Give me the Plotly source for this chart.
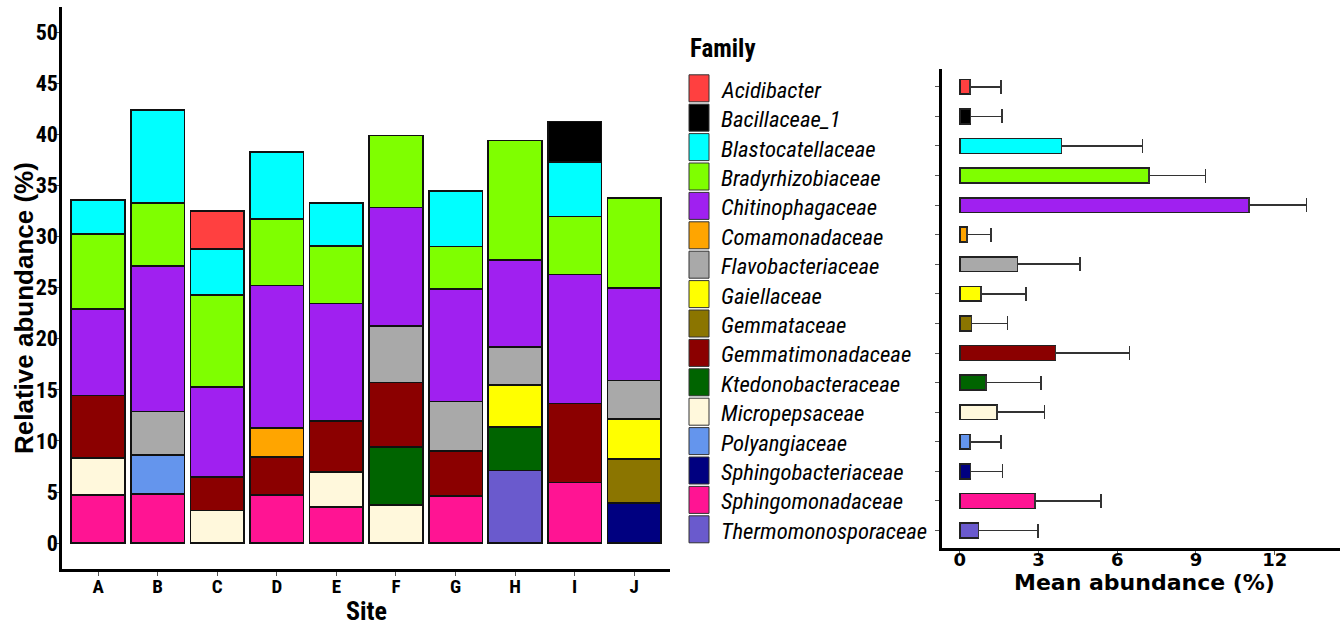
import plotly.graph_objects as go

# Canvas size in pixels; helpers convert pixel positions to paper fractions
W, H = 1343, 629


def px(x):
    return x / W


def py(y):
    return 1 - y / H


sites = ["A", "B", "C", "D", "E", "F", "G", "H", "I", "J"]

families = [
    "Acidibacter", "Bacillaceae_1", "Blastocatellaceae", "Bradyrhizobiaceae",
    "Chitinophagaceae", "Comamonadaceae", "Flavobacteriaceae", "Gaiellaceae",
    "Gemmataceae", "Gemmatimonadaceae", "Ktedonobacteraceae", "Micropepsaceae",
    "Polyangiaceae", "Sphingobacteriaceae", "Sphingomonadaceae",
    "Thermomonosporaceae",
]

family_colors = [
    "#FF4040", "#000000", "#00FFFF", "#7FFF00",
    "#A020F0", "#FFA500", "#A9A9A9", "#FFFF00",
    "#8B7500", "#8B0000", "#006400", "#FFF8DC",
    "#6495ED", "#000080", "#FF1493", "#6A5ACD",
]

# Relative abundance (%) of each family at sites A..J (None = not among the top families)
acidibacter = [None, None, 3.70, None, None, None, None, None, None, None]
bacillaceae_1 = [None, None, None, None, None, None, None, None, 3.96, None]
blastocatellaceae = [3.35, 9.10, 4.50, 6.55, 4.20, None, 5.40, None, 5.32, None]
bradyrhizobiaceae = [7.35, 6.20, 9.00, 6.55, 5.65, 7.04, 4.17, 11.70, 5.68, 8.79]
chitinophagaceae = [8.45, 14.23, 8.84, 13.95, 11.49, 11.62, 11.03, 8.48, 12.65, 9.08]
comamonadaceae = [None, None, None, 2.80, None, None, None, None, None, None]
flavobacteriaceae = [None, 4.27, None, None, None, 5.50, 4.82, 3.74, None, 3.74]
gaiellaceae = [None, None, None, None, None, None, None, 4.13, None, 3.91]
gemmataceae = [None, None, None, None, None, None, None, None, None, 4.32]
gemmatimonadaceae = [6.10, None, 3.26, 3.75, 4.98, 6.35, 4.43, None, 7.71, None]
ktedonobacteraceae = [None, None, None, None, None, 5.63, None, 4.25, None, None]
micropepsaceae = [3.65, None, 3.20, None, 3.45, 3.76, None, None, None, None]
polyangiaceae = [None, 3.80, None, None, None, None, None, None, None, None]
sphingobacteriaceae = [None, None, None, None, None, None, None, None, None, 3.93]
sphingomonadaceae = [4.70, 4.80, None, 4.70, 3.53, None, 4.60, None, 5.94, None]
thermomonosporaceae = [None, None, None, None, None, None, None, 7.10, None, None]

site_abundance = [
    acidibacter, bacillaceae_1, blastocatellaceae, bradyrhizobiaceae,
    chitinophagaceae, comamonadaceae, flavobacteriaceae, gaiellaceae,
    gemmataceae, gemmatimonadaceae, ktedonobacteraceae, micropepsaceae,
    polyangiaceae, sphingobacteriaceae, sphingomonadaceae, thermomonosporaceae,
]

# Mean abundance across sites (%) and its standard deviation
mean_abundance = [0.38, 0.41, 3.87, 7.22, 11.03, 0.28, 2.20, 0.81,
                  0.44, 3.65, 0.99, 1.42, 0.38, 0.41, 2.86, 0.71]
sd_abundance = [1.18, 1.20, 3.10, 2.15, 2.19, 0.90, 2.39, 1.72,
                1.37, 2.81, 2.10, 1.81, 1.20, 1.21, 2.51, 2.27]

y_ticks = [0, 5, 10, 15, 20, 25, 30, 35, 40, 45, 50]
x2_ticks = [0, 3, 6, 9, 12]

NARROW = "Roboto Condensed, Liberation Sans Narrow, sans-serif"
ARIAL = "Liberation Sans, Arial, sans-serif"
WIDE = "DejaVu Sans, Verdana, sans-serif"

fig = go.Figure()

# Stacked bars: the last family in alphabetical order sits at the bottom
for fam, col, vals in reversed(list(zip(families, family_colors, site_abundance))):
    fig.add_trace(go.Bar(
        x=sites, y=vals, name=fam, width=0.9,
        marker=dict(color=col, line=dict(color="#111111", width=1.6)),
        xaxis="x", yaxis="y", showlegend=False,
    ))

# Mean abundance with one-sided standard deviation whiskers
fig.add_trace(go.Bar(
    y=families, x=mean_abundance, orientation="h", width=0.5,
    marker=dict(color=family_colors, line=dict(color="#222222", width=1.6)),
    error_x=dict(type="data", symmetric=False, array=sd_abundance,
                 arrayminus=[0] * len(sd_abundance),
                 color="#333333", thickness=1.6, width=7),
    xaxis="x2", yaxis="y2", showlegend=False,
))

axis_common = dict(
    showline=True, linewidth=3, linecolor="black", showgrid=False,
    zeroline=False, ticks="outside", ticklen=4, tickwidth=1, tickcolor="#555555",
)

fig.update_layout(
    width=W, height=H,
    margin=dict(l=0, r=0, t=0, b=0),
    paper_bgcolor="white", plot_bgcolor="white",
    barmode="stack", bargap=0.1,
    xaxis=dict(
        axis_common, domain=[px(62.3), px(670)], anchor="y",
        type="category", categoryorder="array", categoryarray=sites,
        range=[-0.6, 9.6], ticklabelstandoff=-6,
        tickfont=dict(family=NARROW, size=19, color="black", weight="bold"),
    ),
    yaxis=dict(
        axis_common, domain=[py(568.7), py(6.7)], anchor="x",
        range=[-2.5, 52.5], tickvals=y_ticks, ticklabelstandoff=-7,
        tickfont=dict(family=NARROW, size=22, color="black", weight="bold"),
    ),
    xaxis2=dict(
        axis_common, domain=[px(941.7), px(1340)], anchor="y2",
        range=[-0.69, 14.49], tickvals=x2_ticks, ticklabelstandoff=-11,
        tickfont=dict(family=WIDE, size=18, color="black", weight="bold"),
    ),
    yaxis2=dict(
        axis_common, domain=[py(548.3), py(69)], anchor="x2",
        type="category", categoryorder="array", categoryarray=families,
        range=[len(families) - 0.4, -0.6], showticklabels=False,
    ),
)

annotations = [
    dict(text="Relative abundance (%)", x=px(24), y=py(308), textangle=-90,
         font=dict(family=ARIAL, size=26, color="black", weight="bold")),
    dict(text="Site", x=px(366), y=py(611),
         font=dict(family=NARROW, size=26, color="black", weight="bold")),
    dict(text="Mean abundance (%)", x=px(1144), y=py(582),
         font=dict(family=WIDE, size=22, color="black", weight="bold")),
    dict(text="Family", x=px(688), y=py(48.5), xanchor="left",
         font=dict(family=NARROW, size=25, color="black", weight="bold")),
]

# Legend: colour key boxes and italic family names
shapes = []
for i, (fam, col) in enumerate(zip(families, family_colors)):
    yc = 88.3 + i * 29.4
    shapes.append(dict(
        type="rect", xref="paper", yref="paper",
        x0=px(689), x1=px(709), y0=py(yc + 13.5), y1=py(yc - 13.5),
        fillcolor=col, line=dict(color="#333333", width=1),
    ))
    annotations.append(dict(
        text=fam, x=px(719), y=py(yc + 2), xanchor="left",
        font=dict(family=NARROW, size=22.7, color="black", style="italic"),
    ))

for a in annotations:
    a.setdefault("xref", "paper")
    a.setdefault("yref", "paper")
    a.setdefault("showarrow", False)
    a.setdefault("yanchor", "middle")
    a.setdefault("xanchor", "center")

fig.update_layout(annotations=annotations, shapes=shapes)

fig.write_html("out.html")
